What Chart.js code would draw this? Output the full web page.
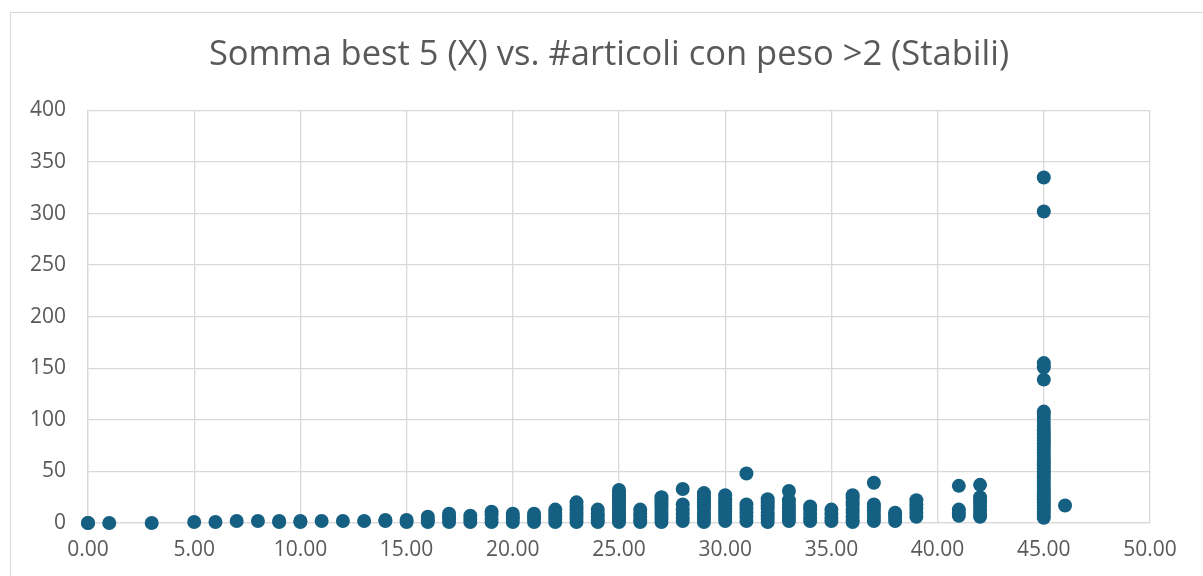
<!DOCTYPE html>
<html>
<head>
<meta charset="utf-8">
<script src="https://cdn.jsdelivr.net/npm/chart.js@4.4.1/dist/chart.umd.min.js"></script>
<style>
  html, body { margin: 0; padding: 0; background: #fff; overflow: hidden; }
  #box { position: absolute; left: 10px; top: 12px; width: 1196px; height: 600px; border: 1px solid #d9d9d9; }
  #wrap { position: absolute; left: 0; top: 0; width: 1196px; height: 564px; }
</style>
</head>
<body>
<div id="box"><div id="wrap"><canvas id="scatterChart"></canvas></div></div>
<script>
// x = Somma best 5, y = #articoli con peso >2 (one list of y per x value)
const xCols = [0, 1, 3, 5, 6, 7, 8, 9, 10, 11, 12, 13, 14, 15, 16, 17, 18, 19, 20, 21, 22, 23, 24, 25, 26, 27, 28, 29, 30, 31, 32, 33, 34, 35, 36, 37, 38, 39, 41, 42, 45, 46];
const yStacks = [
  [0, 0], [0], [0], [1], [1], [2], [2], [1, 2], [1, 2], [2], [2], [2], [2, 3], [1, 3],
  [1, 3, 6], [1, 4, 6, 9], [1, 4, 7], [1, 4, 8, 11], [1, 4, 6, 9], [1, 4, 6, 9],
  [1, 4, 7, 10, 13], [1, 4, 7, 10, 13, 16, 20], [1, 3, 6, 9, 13],
  [1, 3, 5, 7, 9, 11, 14, 17, 20, 23, 26, 29, 32],
  [1, 3, 6, 9, 13],
  [1, 4, 7, 10, 13, 16, 19, 22, 25],
  [2, 5, 9, 13, 18, 33],
  [1, 4, 7, 10, 14, 17, 20, 23, 26, 29],
  [2, 5, 8, 11, 14, 17, 20, 23, 27],
  [2, 6, 10, 14, 18, 48],
  [1, 4, 7, 10, 14, 17, 20, 23],
  [2, 5, 8, 11, 14, 18, 22, 31],
  [2, 5, 9, 13, 16],
  [2, 5, 9, 13],
  [1, 3, 6, 10, 13, 17, 20, 24, 27],
  [2, 5, 8, 12, 15, 18, 39],
  [2, 5, 8, 10],
  [6, 10, 14, 18, 22],
  [7, 10, 13, 36],
  [6, 9, 13, 17, 21, 25, 37],
  [5, 8, 11, 14, 17, 20, 23, 26, 29, 32, 35, 38, 41, 44, 47, 50, 53, 56, 59, 62, 65, 68, 71, 74, 77, 80, 83, 86, 90, 94, 98, 102, 106, 108, 139, 151, 155, 302, 335],
  [17]
];
const xTicks = [0, 5, 10, 15, 20, 25, 30, 35, 40, 45, 50];
const yTicks = [0, 50, 100, 150, 200, 250, 300, 350, 400];

const points = [];
xCols.forEach((x, i) => {
  yStacks[i].forEach((y) => points.push({ x: x, y: y }));
});

const fontFamily = "'Open Sans', sans-serif";
const gridColor = "#d9d9d9";
const textColor = "#595959";

// centre the title on the whole frame, not on the padded box
const fullWidthTitle = {
  id: "fullWidthTitle",
  afterLayout(chart) {
    const t = chart.titleBlock;
    if (t) {
      t.left = 0;
      t.right = chart.width;
      t.width = chart.width;
    }
  },
};

const configScatter = {
  type: "scatter",
  data: {
    datasets: [
      {
        label: "Stabili",
        data: points,
        backgroundColor: "#156082",
        borderColor: "#156082",
        borderWidth: 0,
        pointRadius: 7,
        pointHoverRadius: 7,
        clip: false,
      },
    ],
  },
  options: {
    responsive: true,
    maintainAspectRatio: false,
    animation: false,
    layout: { padding: { left: 0, right: 57, top: 0, bottom: 0 } },
    plugins: {
      legend: { display: false },
      tooltip: { enabled: false },
      title: {
        display: true,
        text: "Somma best 5 (X) vs. #articoli con peso >2 (Stabili)",
        color: textColor,
        font: { family: fontFamily, size: 34.5, weight: "normal" },
        lineHeight: 1.2,
        padding: { top: 21, bottom: 35 },
      },
    },
    scales: {
      x: {
        type: "linear",
        min: 0,
        max: 50,
        afterBuildTicks: (scale) => {
          scale.ticks = xTicks.map((v) => ({ value: v }));
        },
        afterFit: (scale) => {
          scale.height = 54;
        },
        grid: { color: gridColor, lineWidth: 1.3, drawTicks: false },
        border: { color: gridColor, width: 1.3 },
        ticks: {
          color: textColor,
          font: { family: fontFamily, size: 21 },
          padding: 14,
          maxRotation: 0,
          callback: (v) => Number(v).toFixed(2),
        },
      },
      y: {
        type: "linear",
        min: 0,
        max: 400,
        afterBuildTicks: (scale) => {
          scale.ticks = yTicks.map((v) => ({ value: v }));
        },
        afterFit: (scale) => {
          scale.width = 77;
        },
        grid: { color: gridColor, lineWidth: 1.3, drawTicks: false },
        border: { color: gridColor, width: 1.3 },
        ticks: {
          color: textColor,
          font: { family: fontFamily, size: 21 },
          padding: 22,
        },
      },
    },
  },
  plugins: [fullWidthTitle],
};

const scatterChart = new Chart(document.getElementById("scatterChart"), configScatter);
</script>
</body>
</html>
